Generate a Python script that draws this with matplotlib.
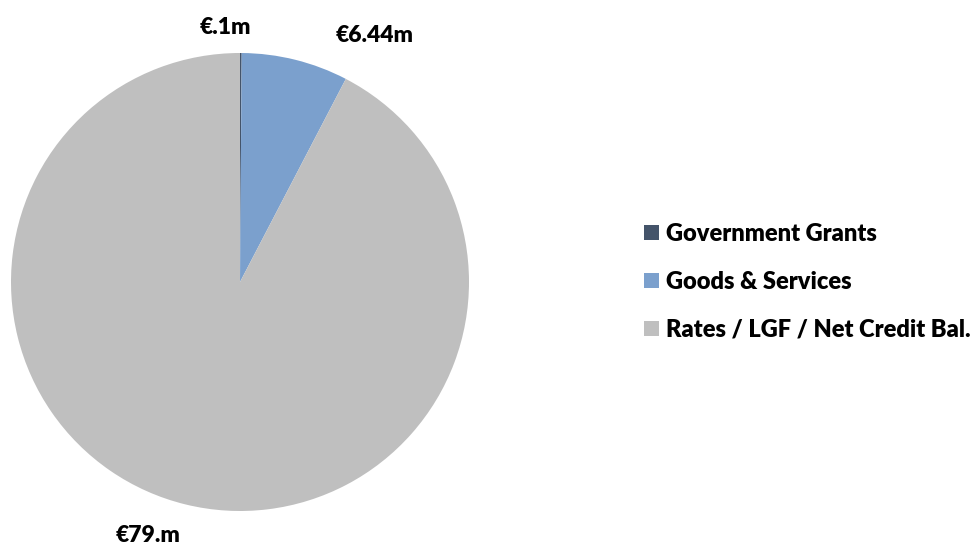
import matplotlib.pyplot as plt
from matplotlib.patches import Patch
import numpy as np

plt.rcParams['font.family'] = ['Lato', 'DejaVu Sans']

categories = ['Government Grants', 'Goods & Services', 'Rates / LGF / Net Credit Bal.']
values = [0.1, 6.44, 79.0]
value_labels = ['€.1m', '€6.44m', '€79.m']
colors = ['#44546A', '#7BA0CD', '#BFBFBF']

fig = plt.figure(figsize=(9.76, 5.45), dpi=100)
ax = fig.add_axes([11 / 976, 34 / 545, 458 / 976, 458 / 545])

wedges, _ = ax.pie(values, colors=colors, startangle=90, counterclock=False,
                   radius=1.0, wedgeprops=dict(linewidth=0))
ax.set_xlim(-1, 1)
ax.set_ylim(-1, 1)
ax.set_aspect('equal')

# data labels sit just outside each wedge, nudged sideways
label_dist = [1.11, 1.11, 1.14]
label_shift = [-0.066, 0.32, -0.13]
for w, lab, d, s in zip(wedges, value_labels, label_dist, label_shift):
    ang = np.deg2rad((w.theta1 + w.theta2) / 2)
    x = d * np.cos(ang) + s
    y = d * np.sin(ang)
    ax.text(x, y, lab, ha='center', va='center', fontsize=16.5, fontweight='heavy',
            clip_on=False)

handles = [Patch(facecolor=c, edgecolor='none') for c in colors]
fig.legend(handles, categories, loc='center left', bbox_to_anchor=(623 / 976, 1 - 282 / 545),
           frameon=False, prop=dict(weight='heavy', size=17),
           handlelength=0.62, handleheight=0.62, handletextpad=0.3, labelspacing=1.1)

fig.savefig('out.png', dpi=100)
